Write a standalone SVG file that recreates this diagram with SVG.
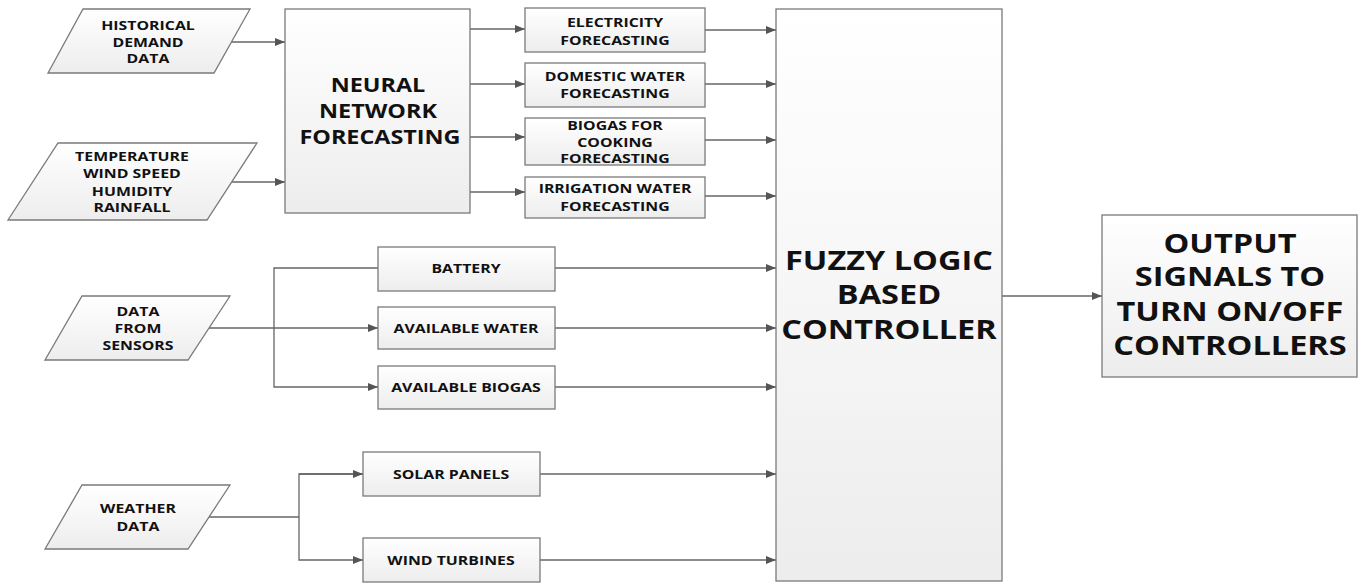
<svg xmlns="http://www.w3.org/2000/svg" width="1360" height="584" viewBox="0 0 1360 584">
<defs>
<linearGradient id="g" x1="0" y1="0" x2="0" y2="1">
<stop offset="0" stop-color="#ffffff"/>
<stop offset="1" stop-color="#ededed"/>
</linearGradient>
<marker id="a" viewBox="0 0 10 8" refX="10" refY="4" markerWidth="10" markerHeight="8" markerUnits="userSpaceOnUse" orient="auto">
<path d="M0,0 L10,4 L0,8 Z" fill="#555"/>
</marker>
<style>
.s{fill:url(#g);stroke:#7a7a7a;stroke-width:1.3}
.c{fill:none;stroke:#666;stroke-width:1.3}
.m{marker-end:url(#a)}
text{font-family:"Open Sans","DejaVu Sans",sans-serif;font-weight:700;fill:#111;text-anchor:middle}
.t1{font-size:13px}
.t2{font-size:19.5px}
.t3{font-size:26px}
</style>
</defs>
<rect width="1360" height="584" fill="#fff"/>
<g id="connectors">
<path class="c m" d="M231,42 H285"/>
<path class="c m" d="M232,182 H285"/>
<path class="c m" d="M470,29 H525"/>
<path class="c m" d="M470,84 H525"/>
<path class="c m" d="M470,137 H525"/>
<path class="c m" d="M470,192 H525"/>
<path class="c m" d="M705,30 H776"/>
<path class="c m" d="M705,84 H776"/>
<path class="c m" d="M705,140 H776"/>
<path class="c m" d="M705,196 H776"/>
<path class="c m" d="M209,328 H378"/>
<path class="c m" d="M378,268 H274 V387 H378"/>
<path class="c m" d="M555,268 H776"/>
<path class="c m" d="M555,328 H776"/>
<path class="c m" d="M555,387 H776"/>
<path class="c" d="M209,517 H299"/>
<path class="c m" d="M363,474 H299 V560 H363"/>
<path class="c m" d="M299,474 H363"/>
<path class="c m" d="M540,474 H776"/>
<path class="c m" d="M540,560 H776"/>
<path class="c m" d="M1002,296 H1102"/>
</g>
<g id="historical">
<polygon class="s" points="83,9 250,9 214,73 48,73"/>
<text class="t1" transform="translate(148 0) scale(1.22 1)" y="30">HISTORICAL</text>
<text class="t1" transform="translate(148 0) scale(1.22 1)" y="47">DEMAND</text>
<text class="t1" transform="translate(148 0) scale(1.22 1)" y="63">DATA</text>
</g>
<g id="weather-inputs">
<polygon class="s" points="58,143 257,143 207,220 8,220"/>
<text class="t1" transform="translate(132 0) scale(1.22 1)" y="161">TEMPERATURE</text>
<text class="t1" transform="translate(132 0) scale(1.22 1)" y="178">WIND SPEED</text>
<text class="t1" transform="translate(132 0) scale(1.22 1)" y="196">HUMIDITY</text>
<text class="t1" transform="translate(132 0) scale(1.22 1)" y="212">RAINFALL</text>
</g>
<g id="neural">
<rect class="s" x="285" y="9" width="185" height="204"/>
<text class="t2" transform="translate(378 0) scale(1.2 1)" y="92">NEURAL</text>
<text class="t2" transform="translate(378 0) scale(1.2 1)" y="118">NETWORK</text>
<text class="t2" transform="translate(380 0) scale(1.2 1)" y="144">FORECASTING</text>
</g>
<g id="electricity">
<rect class="s" x="525" y="8" width="180" height="44"/>
<text class="t1" transform="translate(615 0) scale(1.22 1)" y="27">ELECTRICITY</text>
<text class="t1" transform="translate(615 0) scale(1.22 1)" y="45">FORECASTING</text>
</g>
<g id="domestic">
<rect class="s" x="525" y="63" width="180" height="44"/>
<text class="t1" transform="translate(615 0) scale(1.22 1)" y="81">DOMESTIC WATER</text>
<text class="t1" transform="translate(615 0) scale(1.22 1)" y="98">FORECASTING</text>
</g>
<g id="biogas-cooking">
<rect class="s" x="525" y="118" width="180" height="47"/>
<text class="t1" transform="translate(615 0) scale(1.22 1)" y="130">BIOGAS FOR</text>
<text class="t1" transform="translate(615 0) scale(1.22 1)" y="147">COOKING</text>
<text class="t1" transform="translate(615 0) scale(1.22 1)" y="163">FORECASTING</text>
</g>
<g id="irrigation">
<rect class="s" x="525" y="177" width="180" height="41"/>
<text class="t1" transform="translate(615 0) scale(1.22 1)" y="193">IRRIGATION WATER</text>
<text class="t1" transform="translate(615 0) scale(1.22 1)" y="211">FORECASTING</text>
</g>
<g id="sensors">
<polygon class="s" points="82,296 230,296 188,360 45,360"/>
<text class="t1" transform="translate(138 0) scale(1.22 1)" y="316">DATA</text>
<text class="t1" transform="translate(138 0) scale(1.22 1)" y="333">FROM</text>
<text class="t1" transform="translate(138 0) scale(1.22 1)" y="350">SENSORS</text>
</g>
<g id="battery">
<rect class="s" x="378" y="247" width="177" height="44"/>
<text class="t1" transform="translate(466 0) scale(1.22 1)" y="273">BATTERY</text>
</g>
<g id="water">
<rect class="s" x="378" y="307" width="177" height="42"/>
<text class="t1" transform="translate(466 0) scale(1.22 1)" y="333">AVAILABLE WATER</text>
</g>
<g id="biogas">
<rect class="s" x="378" y="366" width="177" height="43"/>
<text class="t1" transform="translate(466 0) scale(1.22 1)" y="392">AVAILABLE BIOGAS</text>
</g>
<g id="weather">
<polygon class="s" points="82,485 230,485 188,549 45,549"/>
<text class="t1" transform="translate(138 0) scale(1.22 1)" y="513">WEATHER</text>
<text class="t1" transform="translate(138 0) scale(1.22 1)" y="531">DATA</text>
</g>
<g id="solar">
<rect class="s" x="363" y="452" width="177" height="44"/>
<text class="t1" transform="translate(451 0) scale(1.22 1)" y="479">SOLAR PANELS</text>
</g>
<g id="wind">
<rect class="s" x="363" y="538" width="177" height="44"/>
<text class="t1" transform="translate(451 0) scale(1.22 1)" y="565">WIND TURBINES</text>
</g>
<g id="fuzzy">
<rect class="s" x="776" y="9" width="226" height="572"/>
<text class="t3" transform="translate(889 0) scale(1.25 1)" y="270">FUZZY LOGIC</text>
<text class="t3" transform="translate(889 0) scale(1.25 1)" y="304">BASED</text>
<text class="t3" transform="translate(889 0) scale(1.25 1)" y="339">CONTROLLER</text>
</g>
<g id="output">
<rect class="s" x="1102" y="215" width="255" height="162"/>
<text class="t3" transform="translate(1230 0) scale(1.25 1)" y="253">OUTPUT</text>
<text class="t3" transform="translate(1230 0) scale(1.25 1)" y="286">SIGNALS TO</text>
<text class="t3" transform="translate(1230 0) scale(1.25 1)" y="321">TURN ON/OFF</text>
<text class="t3" transform="translate(1230 0) scale(1.25 1)" y="355">CONTROLLERS</text>
</g>
</svg>
